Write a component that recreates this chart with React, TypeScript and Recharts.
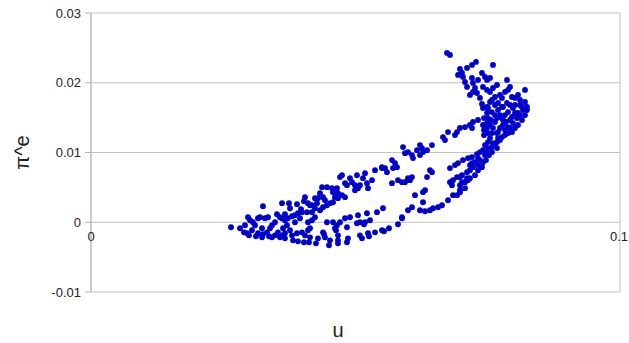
import { CartesianGrid, Scatter, ScatterChart, XAxis, YAxis } from 'recharts';

// [u, π^e] pairs, grouped by part of the cloud
const tailPoints: [number, number][] = [
  [0.02647, -0.00072], [0.02892, -0.00144], [0.02987, -0.00187], [0.03119, -0.00201], [0.03233, -0.00216],
  [0.03365, -0.00201], [0.03478, -0.00187], [0.03573, -0.00216], [0.03667, -0.0023], [0.03819, -0.00259],
  [0.03913, -0.00273], [0.04026, -0.00287], [0.04121, -0.00287], [0.04253, -0.00302], [0.02949, -0.00158],
  [0.03043, -0.00115], [0.03157, -0.00158], [0.03251, -0.00172], [0.03327, -0.00144], [0.03422, -0.00216],
  [0.03535, -0.00144], [0.03611, -0.00187], [0.03667, -0.00158], [0.03762, -0.00115], [0.038, -0.00187],
  [0.03894, -0.00158], [0.03989, -0.00144], [0.04045, -0.00187], [0.04102, -0.00115],
  [0.02911, -0.00043], [0.02968, 0.00072], [0.03006, 0.00029], [0.031, -0.00043], [0.03157, 0.00057],
  [0.03195, 0.00072], [0.03289, 0.00057], [0.03346, 0.00072], [0.03384, -0.00086], [0.03422, -0.00043],
  [0.03478, 0], [0.03516, 0.00115], [0.03573, 0.00072], [0.03611, 0.00057], [0.03667, 0.00029],
  [0.03724, 0.00057], [0.038, 0.00086], [0.03856, 0.00101], [0.03913, 0.00129], [0.03989, 0.00144],
  [0.04083, 0.00144], [0.03667, 0.00115],
  [0.03251, 0.0023], [0.03611, 0.00273], [0.03743, 0.00273], [0.03762, 0.00201], [0.03894, 0.00259],
  [0.04045, 0.00359], [0.04026, 0.00302], [0.0397, 0.00187], [0.0414, 0.00244],
  [0.02817, -0.00086], [0.03062, 0], [0.03233, -0.00086], [0.03705, -0.00043], [0.03856, 0],
  [0.03951, 0.00057], [0.04178, 0.00244], [0.04234, 0.00345], [0.0363, -0.00086],
];

const upperArc: [number, number][] = [
  [0.04102, 0.00273], [0.04178, 0.00144], [0.04234, 0.00201], [0.04272, 0.00273], [0.04291, 0.00345],
  [0.04329, 0.00417], [0.04367, 0.00503], [0.04386, 0.00359], [0.04423, 0.00316], [0.04386, 0.00216],
  [0.04329, 0.00172], [0.04234, 0.00072], [0.04178, 0.00029], [0.04102, 0], [0.04461, 0.00503],
  [0.04556, 0.00489], [0.04575, 0.00431], [0.0465, 0.00489], [0.04669, 0.00417], [0.04612, 0.00359],
  [0.04518, 0.00273], [0.04461, 0.00244], [0.04575, 0.00287], [0.04669, 0.00345], [0.04745, 0.00388],
  [0.04802, 0.00359], [0.04707, 0.00647], [0.04745, 0.00675], [0.04802, 0.0056], [0.04839, 0.00532],
  [0.04934, 0.00575], [0.04991, 0.00532], [0.04991, 0.0046], [0.05047, 0.00489], [0.05085, 0.00532],
  [0.05142, 0.00632], [0.0518, 0.00704], [0.05217, 0.0056], [0.05236, 0.00489], [0.05501, 0.00776],
  [0.05501, 0.0079], [0.05558, 0.00776], [0.05595, 0.00718], [0.0569, 0.00891], [0.05747, 0.00848],
  [0.05784, 0.0079], [0.05709, 0.00776], [0.0569, 0.0056], [0.05803, 0.00603], [0.05879, 0.00575],
  [0.05936, 0.00575], [0.05992, 0.00632], [0.06068, 0.00647], [0.0603, 0.00603], [0.06352, 0.00647],
  [0.06408, 0.00747], [0.06446, 0.00718], [0.06786, 0.00776], [0.06881, 0.00819], [0.06786, 0.00575],
  [0.06843, 0.00603], [0.06919, 0.00647], [0.06824, 0.00532],
  [0.05898, 0.01078], [0.05936, 0.00991], [0.05992, 0.01006], [0.06068, 0.00963], [0.06087, 0.0092],
  [0.06163, 0.01034], [0.06219, 0.01106], [0.06257, 0.01063], [0.06276, 0.01006], [0.06352, 0.01034],
  [0.06446, 0.01106], [0.06219, 0.00963], [0.06654, 0.01221], [0.06692, 0.01178], [0.06749, 0.01293],
  [0.06881, 0.0125], [0.06919, 0.01293], [0.06975, 0.01351], [0.0707, 0.01365], [0.07164, 0.01394],
  [0.07221, 0.01437], [0.07316, 0.01466], [0.07202, 0.01351],
  [0.04896, 0.00632], [0.05028, 0.00675], [0.05312, 0.00603], [0.05369, 0.00747],
];

const lowerArc: [number, number][] = [
  [0.0414, -0.00086], [0.0414, -0.00216], [0.04461, 0], [0.04575, 0], [0.04707, 0], [0.04802, 0.00057],
  [0.04896, 0.00072], [0.05028, -0.00014], [0.05085, 0], [0.0518, 0], [0.05217, 0.00129], [0.05274, 0.00029],
  [0.05047, 0.00101], [0.04839, -0.00072], [0.0465, -0.00043], [0.04612, -0.00086], [0.04386, -0.00144],
  [0.04423, -0.00216], [0.04518, -0.00259], [0.04669, -0.00187], [0.04669, -0.00259], [0.04858, -0.0023],
  [0.05085, -0.00187], [0.05236, -0.00158], [0.05369, -0.00144], [0.05501, -0.00115], [0.04291, -0.0023],
  [0.04499, -0.0033], [0.04669, -0.00302], [0.04839, -0.00287], [0.05123, -0.0023], [0.05255, -0.00201],
  [0.05539, -0.00129], [0.05633, -0.00086], [0.05803, -0.00029], [0.05879, 0.00057], [0.05161, -0.00029],
  [0.04631, -0.00115], [0.04405, -0.00172], [0.05406, 0.00144], [0.0552, 0.00201], [0.05879, 0.00072],
  [0.06125, 0.00388], [0.06276, 0.00431], [0.06314, 0.0046], [0.06276, 0.00287], [0.06068, 0.00216],
  [0.05992, 0.00172], [0.06219, 0.00172], [0.06314, 0.00158], [0.06408, 0.00172], [0.06465, 0.00201],
  [0.0656, 0.00216], [0.06635, 0.00244], [0.06749, 0.00316], [0.06843, 0.00388],
  [0.07013, 0.00675], [0.07108, 0.00718], [0.07164, 0.00747], [0.07202, 0.00848], [0.07127, 0.00603],
  [0.0707, 0.00575], [0.06975, 0.00532], [0.06975, 0.0046],
];

const rightBand: [number, number][] = [
  [0.06938, 0.00848], [0.07032, 0.00891], [0.07127, 0.0092], [0.07202, 0.00934], [0.07297, 0.00977],
  [0.07316, 0.0092], [0.07221, 0.0079], [0.06975, 0.00647], [0.07108, 0.00632], [0.07013, 0.00575],
  [0.06975, 0.00431], [0.06919, 0.00388], [0.07259, 0.00675], [0.07316, 0.00747], [0.07391, 0.0079],
  [0.0741, 0.00862], [0.07448, 0.00963], [0.07486, 0.01006], [0.07505, 0.01063], [0.0741, 0.01034],
  [0.0758, 0.01078], [0.07599, 0.01135], [0.07675, 0.01149], [0.07694, 0.01207], [0.07769, 0.01221],
  [0.07826, 0.0125], [0.07883, 0.01279], [0.07958, 0.01293], [0.08015, 0.01351], [0.08072, 0.01394],
  [0.08147, 0.01466], [0.08204, 0.01537], [0.08242, 0.01609], [0.08166, 0.01609], [0.07505, 0.01149],
  [0.07543, 0.01207], [0.07505, 0.01279], [0.07486, 0.01351], [0.07486, 0.01422], [0.07505, 0.01494],
  [0.07486, 0.01566], [0.07505, 0.01638], [0.0758, 0.0158], [0.07637, 0.01537], [0.07637, 0.01437],
  [0.07599, 0.01351], [0.07675, 0.01279], [0.07732, 0.01351], [0.07788, 0.01394], [0.07769, 0.01494],
  [0.07826, 0.01537], [0.07883, 0.0158], [0.07921, 0.01466], [0.07977, 0.01422], [0.08053, 0.01494],
  [0.08072, 0.01566], [0.07977, 0.01638], [0.07826, 0.01322], [0.07883, 0.01365], [0.07694, 0.01609],
  [0.07769, 0.01652], [0.07675, 0.01063], [0.07353, 0.00891], [0.07448, 0.01106], [0.07543, 0.01394],
  [0.07429, 0.0125], [0.0741, 0.01394], [0.07429, 0.01494], [0.07429, 0.01322], [0.07164, 0.00819],
  [0.07259, 0.00862], [0.07353, 0.01006],
  [0.07467, 0.00891], [0.07524, 0.00963], [0.0758, 0.01006], [0.07637, 0.01106], [0.07732, 0.01178],
  [0.07694, 0.01293], [0.0758, 0.01279], [0.07561, 0.01466], [0.07675, 0.01494], [0.07732, 0.01537],
  [0.07788, 0.01466], [0.07845, 0.01437], [0.07921, 0.01351], [0.07958, 0.01509], [0.08015, 0.01566],
  [0.0811, 0.01537], [0.0811, 0.01681], [0.07921, 0.01681], [0.07637, 0.01681], [0.07543, 0.01724],
  [0.07316, 0.00819], [0.07164, 0.00632], [0.0707, 0.00489],
];

const topCluster: [number, number][] = [
  [0.0673, 0.02428], [0.06786, 0.02399], [0.06975, 0.02198], [0.07013, 0.02141], [0.07032, 0.02083],
  [0.07108, 0.02213], [0.07202, 0.02256], [0.07278, 0.02299], [0.07599, 0.02256], [0.0707, 0.02011],
  [0.07108, 0.0194], [0.07202, 0.02069], [0.07221, 0.01997], [0.07259, 0.01925], [0.07221, 0.01868],
  [0.07297, 0.01853], [0.07316, 0.0204], [0.07391, 0.02141], [0.07448, 0.02083], [0.07486, 0.0204],
  [0.07543, 0.02069], [0.0741, 0.0194], [0.07486, 0.01897], [0.07353, 0.01782], [0.07391, 0.01695],
  [0.07543, 0.01868], [0.07599, 0.01925], [0.07675, 0.01968], [0.07637, 0.01796], [0.07732, 0.01825],
  [0.07769, 0.01782], [0.07864, 0.0204], [0.07883, 0.01897], [0.07921, 0.0194], [0.07958, 0.01796],
  [0.08015, 0.01782], [0.08072, 0.01825], [0.08204, 0.01897], [0.08204, 0.01724], [0.08242, 0.01652],
  [0.08147, 0.01652], [0.07864, 0.0171], [0.07694, 0.0171], [0.07788, 0.01652], [0.07486, 0.01652],
  [0.0741, 0.01638], [0.06938, 0.02112], [0.07164, 0.01825], [0.0758, 0.01753], [0.07826, 0.01868],
  [0.08015, 0.01681], [0.0811, 0.01753],
];

const xTicks = [0, 0.1];
const yTicks = [-0.01, 0, 0.01, 0.02, 0.03];

const points = [...tailPoints, ...upperArc, ...lowerArc, ...rightBand, ...topCluster].map(([u, pi]) => ({ u, pi }));

const font = '"Liberation Sans", Arial, sans-serif';
const gridColor = '#c0c0c0';

// x tick labels sit just under the zero line, not at the bottom of the plot
const XTick = ({ x, y, payload }: any) => (
  <text x={x} y={y - 51} textAnchor='middle' fill='#222' fontSize={13} fontFamily={font}>
    {payload.value}
  </text>
);

export default function App() {
  return (
    <div style={{ position: 'absolute', left: 0, top: 0, background: '#fff' }}>
      <ScatterChart width={629} height={343} margin={{ top: 13, right: 9, bottom: 0, left: 0 }}>
        <CartesianGrid stroke={gridColor} strokeWidth={1} />
        <XAxis
          type='number'
          dataKey='u'
          domain={[0, 0.1]}
          ticks={xTicks}
          height={51}
          axisLine={false}
          tickLine={false}
          tickSize={0}
          tickMargin={0}
          tick={<XTick />}
          label={({ viewBox }: any) => (
            <text x={viewBox.x + 247} y={viewBox.y + 45} textAnchor='middle' fontSize={20} fill='#222' fontFamily={font}>
              u
            </text>
          )}
        />
        <YAxis
          type='number'
          dataKey='pi'
          domain={[-0.01, 0.03]}
          ticks={yTicks}
          width={91}
          axisLine={{ stroke: '#b4b4b4' }}
          tickLine={{ stroke: '#b4b4b4' }}
          tickSize={6}
          tickMargin={4}
          tick={{ fill: '#222', fontSize: 13, fontFamily: font }}
          tickFormatter={(v: number) => String(v)}
          label={({ viewBox }: any) => (
            <text
              transform={`translate(${viewBox.x + 29}, ${viewBox.y + viewBox.height / 2}) rotate(-90)`}
              textAnchor='middle'
              fontSize={20}
              fill='#222'
              fontFamily={font}
            >
              π^e
            </text>
          )}
        />
        <Scatter
          data={points}
          isAnimationActive={false}
          shape={(p: any) => <circle cx={p.cx} cy={p.cy} r={2.9} fill='#0000cc' />}
        />
      </ScatterChart>
    </div>
  );
}
